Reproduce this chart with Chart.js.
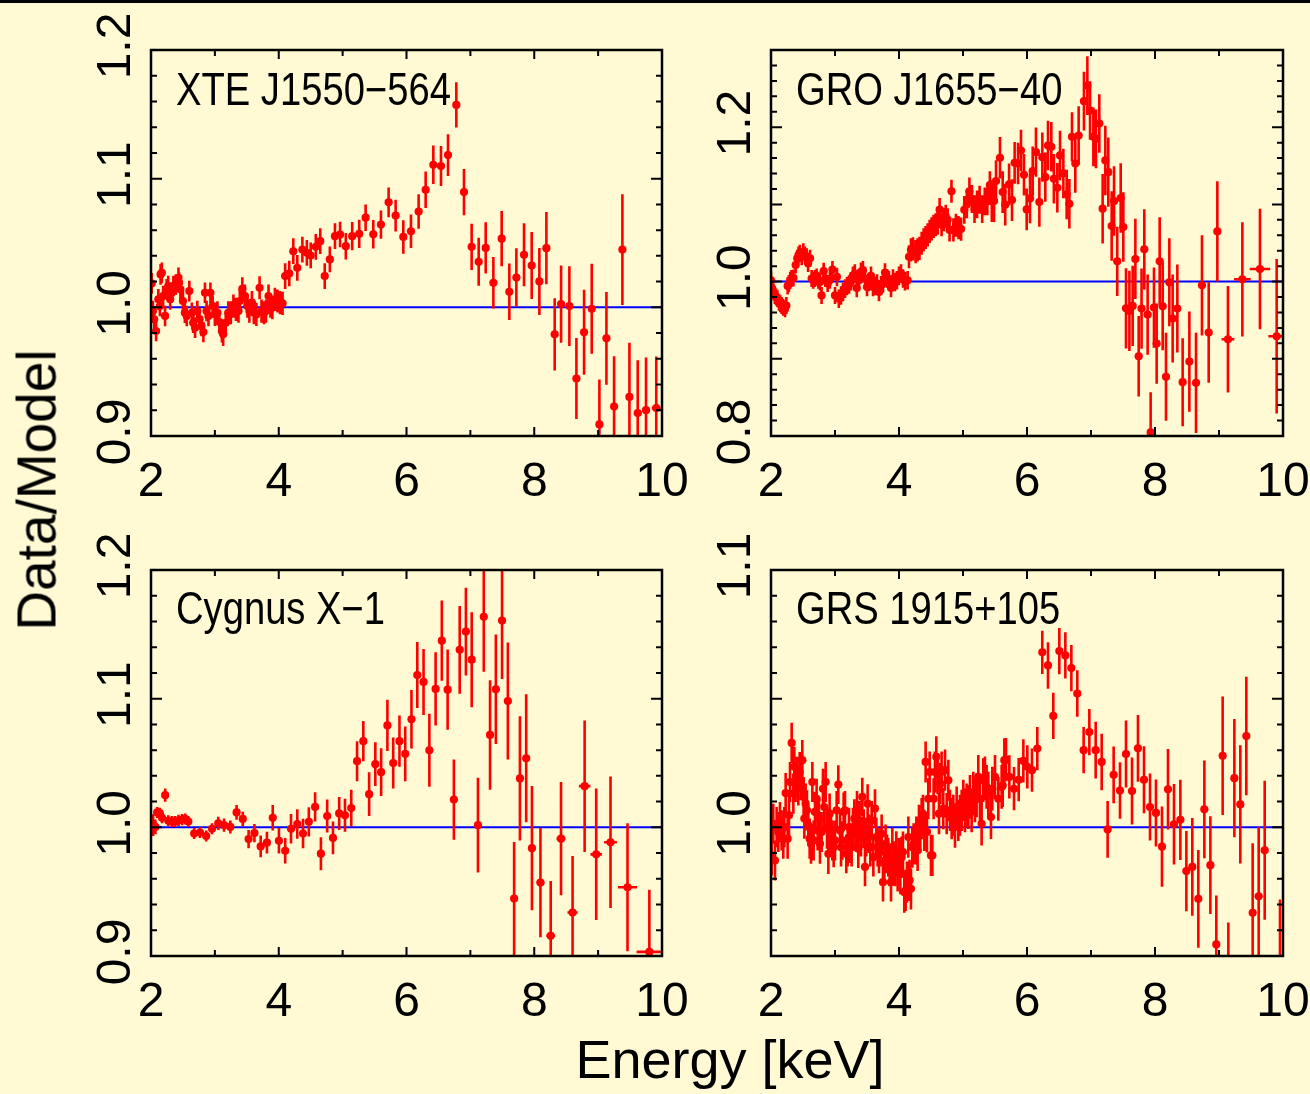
<!DOCTYPE html>
<html>
<head>
<meta charset="utf-8">
<script src="https://cdn.jsdelivr.net/npm/chart.js@4.4.1/dist/chart.umd.min.js"></script>
<style>
body { margin: 0; background: #fffad4; }
#page { position: relative; width: 1310px; height: 1094px; overflow: hidden; background: #fffad4; }
#topbar { position: absolute; left: 0; top: 0; width: 1310px; height: 3px; background: #000; }
canvas { position: absolute; }
.name { position: absolute; font: 46px "Liberation Sans", Arial, sans-serif; line-height: 46px; color: #000; white-space: nowrap; transform: scaleX(0.83); transform-origin: 0 0; }
.axis { position: absolute; font-family: "Liberation Sans", Arial, sans-serif; color: #000; white-space: nowrap; }
</style>
</head>
<body>
<div id="page">
  <div id="topbar"></div>
  <canvas id="xte" width="640" height="510" style="left:60px;top:0px"></canvas>
  <canvas id="gro" width="640" height="510" style="left:680px;top:0px"></canvas>
  <canvas id="cyg" width="640" height="520" style="left:60px;top:520px"></canvas>
  <canvas id="grs" width="640" height="520" style="left:680px;top:520px"></canvas>
  <div class="name" style="left:176px;top:66px">XTE J1550−564</div>
  <div class="name" style="left:796px;top:66px">GRO J1655−40</div>
  <div class="name" style="left:176px;top:585px">Cygnus X−1</div>
  <div class="name" style="left:796px;top:585px">GRS 1915+105</div>
  <div class="axis" style="left:37px;top:490px;font-size:55px;line-height:55px;transform:translate(-50%,-50%) rotate(-90deg)">Data/Model</div>
  <div class="axis" style="left:730px;top:1032px;font-size:54px;line-height:54px;transform:translateX(-50%)">Energy [keV]</div>
</div>
<script>
// model line (data/model = 1)
var modelEnergy = [2, 10];
var modelRatio = [1, 1];

// XTE J1550-564
var xteEnergy = [2.01,2.03,2.05,2.08,2.115,2.14,2.15,2.17,2.19,2.22,
  2.245,2.27,2.30,2.32,2.35,2.39,2.43,2.44,2.46,2.50,
  2.53,2.56,2.60,2.64,2.66,2.69,2.725,2.76,2.79,2.82,
  2.845,2.87,2.90,2.93,2.965,3.00,3.04,3.07,3.11,3.13,
  3.17,3.21,3.25,3.29,3.33,3.37,3.39,3.43,3.47,3.51,
  3.54,3.58,3.61,3.65,3.70,3.73,3.77,3.80,3.84,3.87,
  3.90,3.94,3.98,4.02,4.06,
  4.10,4.165,4.228,4.29,4.37,4.44,4.50,4.58,4.65,4.72,4.80,4.88,4.96,
  5.05,5.15,5.26,5.36,5.48,5.60,5.72,5.83,5.95,6.07,
  6.19,6.30,6.42,6.54,6.65,6.78,6.90,7.02,7.13,7.24,
  7.36,7.49,7.61,7.72,7.84,7.96,8.08,8.19,8.32,8.42,
  8.55,8.66,8.78,8.90,9.02,9.13,9.25,9.38,9.49,9.62,
  9.75,9.91];
var xteRatio = [1.0186,0.9971,0.9907,0.9816,1.0062,1.001,1.0256,1.0268,1.0088,0.9933,
  1.014,1.0165,1.0062,1.0113,1.0165,1.0178,1.023,1.0191,1.014,1.0049,
  0.9958,0.9933,1.0126,0.9958,0.988,0.9842,0.9971,0.9907,0.9855,0.9808,
  1.0113,0.9971,0.9933,1.0113,1.001,0.9945,0.9958,0.9886,0.9816,0.979,
  0.988,0.9958,0.9958,1.001,0.9984,0.9971,1.0049,1.0144,1.0088,1.001,
  0.9971,1.0036,0.9958,0.9945,1.0152,0.9971,0.9958,0.9971,1.0088,1.001,
  0.9997,1.0062,1.0049,1.0036,1.0031,
  1.0243,1.0263,1.0436,1.0307,1.0449,1.0424,1.0403,1.047,1.0514,1.0243,1.0372,1.0553,1.0566,
  1.0475,1.0553,1.0571,1.0697,1.0568,1.0643,1.0816,1.0713,1.0547,1.0591,
  1.0744,1.0914,1.1108,1.1098,1.1183,1.1573,1.0896,1.0470,1.0354,1.0462,
  1.0191,1.0534,1.0121,1.0232,1.0408,1.0325,1.0201,1.0460,0.9790,1.0025,
  1.0010,0.9447,0.9806,0.9989,0.9090,0.9759,0.9229,1.0449,0.9304,0.9178,
  0.9201,0.9217];
var xteErr = [0.008,0.008,0.008,0.008,0.008,0.008,0.008,0.008,0.008,0.008,
  0.008,0.008,0.008,0.008,0.008,0.008,0.008,0.008,0.008,0.008,
  0.008,0.008,0.008,0.008,0.008,0.008,0.008,0.008,0.008,0.008,
  0.008,0.008,0.008,0.008,0.008,0.009,0.009,0.009,0.009,0.009,
  0.009,0.009,0.009,0.009,0.009,0.009,0.009,0.009,0.009,0.009,
  0.009,0.009,0.009,0.009,0.009,0.009,0.009,0.009,0.009,0.009,
  0.009,0.009,0.009,0.009,0.009,
  0.010,0.010,0.010,0.010,0.010,0.010,0.010,0.010,0.010,0.010,0.010,0.010,0.010,
  0.0103,0.011,0.011,0.0103,0.011,0.011,0.0116,0.0124,0.013,0.013,
  0.0134,0.0142,0.015,0.0155,0.0163,0.0176,0.018,0.018,0.0186,0.02,
  0.02,0.0214,0.022,0.0227,0.0245,0.026,0.026,0.028,0.028,0.030,
  0.031,0.0315,0.033,0.035,0.035,0.036,0.039,0.043,0.042,0.041,
  0.041,0.040];
var xteXerr = [0.05, 0.06, 0.06, 0.07];
var xteYLabels = ['0.9', '1.0', '1.1', '1.2'];

// GRO J1655-40
var groEnergy = [2.0,2.02,2.04,2.06,2.08,2.10,2.125,2.145,2.166,2.19,
  2.22,2.24,2.26,2.28,2.30,2.32,2.35,2.385,2.41,2.43,
  2.45,2.48,2.505,2.53,2.557,2.58,2.61,2.635,2.66,2.687,
  2.713,2.74,2.765,2.79,2.823,2.85,2.885,2.92,2.96,3.0,
  3.03,3.06,3.094,3.125,3.156,3.187,3.22,3.25,3.28,3.31,
  3.34,3.375,3.406,3.437,3.47,3.50,3.53,3.562,3.594,3.625,
  3.656,3.687,3.72,3.75,3.781,3.812,3.843,3.875,3.906,3.937,
  3.968,4.0,4.031,4.062,4.093,4.135,
  4.156,4.187,4.218,4.26,4.29,4.32,4.354,4.385,4.416,4.448,
  4.479,4.51,4.54,4.573,4.604,4.635,4.666,4.698,4.73,4.76,
  4.79,4.82,4.85,4.89,4.93,4.97,5.02,5.06,5.10,5.14,
  5.18,5.22,5.26,5.30,5.34,5.38,5.42,
  5.45,5.485,5.516,5.578,5.62,5.66,5.72,5.766,5.807,5.86,
  5.906,5.953,5.995,6.047,6.089,6.14,6.193,6.24,6.286,6.328,
  6.38,6.42,6.474,6.516,6.568,6.62,6.662,6.703,6.755,6.807,
  6.89,6.943,6.985,7.037,7.078,7.13,7.182,7.224,7.27,7.323,
  7.36,7.41,7.464,7.505,7.547,7.6,7.651,7.693,7.745,7.79,
  7.833,7.885,7.932,7.984,8.026,8.073,8.12,8.172,8.224,8.276,
  8.349,8.432,8.537,8.641,8.734,8.839,8.974,9.14,9.365,9.64,
  9.901];
var groRatio = [1.0017,0.9909,0.9865,0.9821,0.98,0.9778,0.9734,0.9712,0.969,0.9669,
  0.9647,0.969,0.9943,0.9974,1.0017,1.0039,1.0048,1.0214,1.0301,1.0344,
  1.0366,1.0322,1.0388,1.0344,1.0322,1.0235,1.0301,1.0039,1.0017,1.0039,
  1.0061,1.0017,0.9996,0.9821,1.0135,1.0039,0.9974,1.0017,1.0157,0.9821,
  1.0061,0.9778,0.9821,0.9865,0.9909,0.9943,0.9961,1.0004,1.0074,1.0105,
  0.9917,1.0017,1.0126,1.0148,1.0039,0.993,0.9996,1.0074,0.993,0.9943,
  0.9974,0.9865,0.9952,0.9974,1.0118,1.0039,1.0017,0.9917,1.0039,0.9996,
  1.0017,1.0074,1.0105,1.0039,1.0004,1.0017,
  1.0322,1.041,1.0423,1.0388,1.041,1.0431,1.0497,1.054,1.0571,1.0606,
  1.065,1.0684,1.0715,1.0736,1.0758,1.0932,1.0736,1.0802,1.0845,1.08,
  1.067,1.117,1.067,1.073,1.07,1.068,1.093,1.10,1.117,1.107,
  1.094,1.10,1.106,1.094,1.104,1.104,1.125,
  1.1043,1.1043,1.1302,1.1604,1.116,1.0996,1.1259,1.1056,1.1539,1.153,
  1.1698,1.1384,1.0935,1.1077,1.1431,1.1677,1.103,1.1612,1.1353,1.1763,
  1.1746,1.1332,1.1215,1.1634,1.1401,1.1129,1.1008,1.1875,1.153,1.1892,
  1.2337,1.2539,1.2216,1.1875,1.1849,1.2048,1.0944,1.1569,1.1418,1.072,
  1.1043,1.0262,1.1082,1.0707,0.9654,0.962,0.9685,1.0293,0.9033,0.965,
  1.0418,0.9573,0.8046,0.9663,0.9197,1.0262,0.968,0.8766,0.9991,0.9521,
  0.965,0.8697,0.8964,0.8689,0.9952,0.934,1.065,0.9253,1.003,1.0163,
  0.9292];
var groErr = [0.011,0.011,0.011,0.011,0.011,0.011,0.011,0.011,0.011,0.011,
  0.011,0.011,0.011,0.011,0.011,0.011,0.011,0.011,0.011,0.011,
  0.011,0.011,0.011,0.011,0.011,0.011,0.011,0.011,0.011,0.011,
  0.011,0.011,0.011,0.011,0.011,0.011,0.011,0.011,0.011,0.011,
  0.012,0.012,0.012,0.012,0.012,0.012,0.012,0.012,0.012,0.012,
  0.012,0.012,0.012,0.012,0.012,0.012,0.012,0.012,0.012,0.012,
  0.012,0.012,0.012,0.012,0.012,0.012,0.012,0.012,0.012,0.012,
  0.012,0.012,0.012,0.012,0.012,0.012,
  0.015,0.015,0.015,0.015,0.015,0.015,0.015,0.015,0.015,0.015,
  0.015,0.015,0.015,0.015,0.015,0.015,0.015,0.015,0.015,0.015,
  0.015,0.015,0.015,0.015,0.015,0.015,0.018,0.018,0.018,0.018,
  0.018,0.018,0.018,0.018,0.018,0.018,0.018,
  0.027,0.027,0.027,0.027,0.027,0.027,0.027,0.027,0.027,0.027,
  0.027,0.027,0.027,0.032,0.032,0.032,0.032,0.032,0.032,0.032,
  0.032,0.032,0.032,0.032,0.032,0.032,0.032,0.032,0.038,0.038,
  0.038,0.038,0.038,0.038,0.038,0.038,0.045,0.045,0.045,0.045,
  0.045,0.045,0.045,0.045,0.052,0.052,0.052,0.052,0.052,0.052,
  0.052,0.052,0.052,0.052,0.052,0.057,0.057,0.057,0.057,0.057,
  0.057,0.057,0.065,0.065,0.065,0.065,0.065,0.069,0.074,0.078,
  0.10];
var groXerr = [0.1, 0.13, 0.16, 0.13];
var groYLabels = ['0.8', '1.0', '1.2'];

// Cygnus X-1
var cygEnergy = [2.033,2.068,2.096,2.138,2.173,2.222,2.271,2.327,2.376,2.431,
  2.487,2.536,2.585,2.676,2.767,2.864,2.955,3.053,3.144,3.242,
  3.34,3.437,3.528,3.619,3.717,3.815,3.906,4.003,4.101,4.192,
  4.29,4.38,4.471,4.569,4.66,4.758,4.849,4.946,5.037,5.135,
  5.226,5.324,5.415,5.512,5.603,5.701,5.792,5.89,5.98,6.078,
  6.169,6.267,6.358,6.456,6.553,6.644,6.742,6.833,6.93,7.021,
  7.119,7.21,7.308,7.399,7.496,7.587,7.685,7.776,7.874,7.964,
  8.097,8.258,8.419,8.6,8.789,8.97,9.194,9.46,9.802];
var cygRatio = [1.0017,1.0003,1.0116,1.011,1.0074,1.025,1.0051,1.0045,1.0045,1.0054,
  1.0060,1.0065,1.0045,0.9952,0.996,0.9932,0.9989,1.0031,1.0017,1.0003,
  1.0116,1.0065,0.9909,0.9955,0.9852,0.9881,1.0074,0.9895,0.9818,0.9989,
  1.0026,0.9952,1.0043,1.0159,0.9795,1.0088,0.9918,1.0108,1.0094,1.015,
  1.0514,1.067,1.0258,1.0491,1.0429,1.0792,1.05,1.067,1.0571,1.084,
  1.1184,1.113,1.0599,1.1076,1.1451,1.107,1.0216,1.138,1.1522,1.1303,
  1.0017,1.1636,1.0718,1.1073,1.1607,1.0982,0.9446,1.038,1.0537,0.9838,
  0.9571,0.9157,0.9912,0.9338,1.032,0.979,0.9884,0.9534,0.9032];
var cygErr = [0.0085,0.0057,0.0043,0.0043,0.0043,0.0051,0.0043,0.0043,0.0043,0.0043,
  0.0043,0.0043,0.0043,0.0043,0.0043,0.0043,0.0043,0.0051,0.0051,0.0051,
  0.0057,0.0057,0.0071,0.0071,0.0085,0.0085,0.0099,0.0099,0.0099,0.0114,
  0.0114,0.0114,0.0114,0.0114,0.0128,0.0128,0.0128,0.0128,0.0128,0.0142,
  0.0156,0.0156,0.017,0.017,0.0185,0.0199,0.0199,0.0199,0.0213,0.0227,
  0.0256,0.0256,0.0284,0.0284,0.0312,0.0312,0.0312,0.0341,0.0341,0.0369,
  0.0369,0.0426,0.0426,0.0426,0.0454,0.0454,0.044,0.0483,0.0497,0.0483,
  0.0426,0.0426,0.044,0.044,0.0511,0.0511,0.0511,0.0497,0.0483];
var cygXerr = [0.06, 0.07, 0.07, 0.08, 0.09, 0.09, 0.1, 0.15, 0.2];
var cygYLabels = ['0.9', '1.0', '1.1', '1.2'];

// GRS 1915+105
var grsEnergy = [2.010,2.036,2.062,2.088,2.114,2.140,2.166,2.192,2.208,2.229,
  2.260,2.281,2.297,2.323,2.349,2.364,2.385,2.406,2.427,2.448,
  2.469,2.489,2.510,2.521,2.541,2.562,2.583,2.604,2.625,2.646,
  2.666,2.687,2.713,2.729,2.750,2.765,2.791,2.812,2.833,2.854,
  2.875,2.896,2.916,2.937,2.958,2.979,3.000,3.026,3.052,3.078,
  3.094,3.114,3.135,3.156,3.177,3.198,3.219,3.239,3.260,3.281,
  3.302,3.323,3.344,3.364,3.385,3.406,3.427,3.448,3.469,3.489,
  3.510,3.531,3.552,3.573,3.599,3.625,3.646,3.666,3.687,3.708,
  3.729,3.750,3.771,3.791,3.812,3.833,3.854,3.875,3.896,3.916,
  3.937,3.958,3.979,4.000,4.021,4.041,4.062,4.083,4.104,4.125,
  4.146,4.166,4.187,4.208,4.229,4.250,4.271,4.291,4.312,4.333,
  4.354,4.375,4.396,4.416,4.437,4.458,4.479,4.500,4.521,4.541,
  4.562,4.583,4.604,4.625,4.646,4.666,4.692,4.719,4.745,4.771,
  4.797,4.823,4.849,4.875,4.901,4.927,4.953,4.979,5.005,5.031,
  5.057,5.083,5.109,5.135,5.161,5.187,5.213,5.239,5.265,5.291,
  5.317,5.343,5.369,5.395,5.437,5.458,5.5,5.552,5.604,5.646,
  5.62,5.672,5.724,5.797,5.87,5.943,6.005,6.078,6.161,6.239,
  6.328,6.411,6.505,6.599,6.693,6.786,6.885,6.974,7.073,7.167,
  7.26,7.354,7.453,7.547,7.641,7.734,7.828,7.922,8.015,8.109,
  8.203,8.297,8.396,8.49,8.583,8.677,8.771,8.865,8.958,9.057,
  9.146,9.24,9.333,9.427,9.526,9.62,9.714,9.953];
var grsRatio = [0.9891,1.0014,0.9871,1.0001,0.9982,1.002,0.9988,0.9956,1.0001,1.0133,
  0.9956,1.0047,1.0176,1.0328,1.0131,1.0235,1.0176,1.0196,1.0163,1.0215,
  1.0183,1.0261,1.0118,1.0034,1.0092,1.0066,1.0008,0.9956,0.9936,1.0176,
  0.9949,1.006,1.0111,0.9988,1.0034,0.9936,0.9982,1.015,1.0079,1.0176,
  0.9995,0.9897,1.0053,0.9988,0.9949,0.9923,0.9949,1.0066,1.0166,0.9988,
  0.9923,0.9949,1.006,1.0066,0.9897,0.9923,1.0001,0.9936,0.9923,1.0001,
  1.0034,0.9982,1.0066,0.9917,1.0027,0.9962,1.0118,0.9995,0.9846,0.9962,
  1.0092,0.9975,0.9923,1.0027,0.9884,1.0073,0.9962,0.9923,0.9897,0.9923,
  0.9975,0.9787,0.9871,0.9936,0.9897,0.9884,0.9846,0.9787,0.9923,0.9871,
  0.9846,0.991,0.9826,0.9884,0.982,0.9884,0.9904,0.9748,0.9755,0.9787,
  0.9962,0.9794,0.9761,0.9923,0.9936,0.9936,0.9962,0.991,1.0008,0.9982,
  1.0034,1.0047,0.9988,1.0254,0.9982,1.0111,1.0215,0.9891,0.9891,1.0111,
  1.0215,1.0274,1.0209,1.0053,1.017,1.0215,1.0073,1.0222,1.0053,1.0183,
  1.0066,1.0034,1.0047,1.0001,1.0079,1.0027,1.0047,1.0066,1.0105,1.0066,
  1.0085,1.0079,1.0118,1.0066,1.0131,1.0105,1.0124,1.0196,1.0111,1.0014,
  1.0183,1.019,1.0157,1.0131,1.004,1.015,1.0196,1.0111,1.0157,1.0261,
  1.0163,1.0263,1.0196,1.015,1.0185,1.0258,1.0235,1.0222,1.0306,1.068,
  1.0629,1.0433,1.0685,1.0668,1.0619,1.052,1.03,1.037,1.03,1.0254,
  0.9992,1.0204,1.0143,1.0285,1.0141,1.0307,1.0185,1.0079,1.0056,0.9925,
  1.0148,1.0012,1.0029,0.983,0.9846,0.9722,1.007,0.9853,0.9545,1.0278,
  0.94,1.0191,1.0089,1.0355,0.9668,0.9732,0.9911,0.945];
var grsErr = [0.0078,0.0078,0.0078,0.0078,0.0078,0.0078,0.0078,0.0078,0.0078,0.0078,
  0.0078,0.0078,0.0078,0.0078,0.0078,0.0078,0.0078,0.0078,0.0078,0.0078,
  0.0078,0.0078,0.0078,0.0078,0.0078,0.0078,0.0078,0.0078,0.0078,0.0078,
  0.0078,0.0078,0.0078,0.0078,0.0078,0.0078,0.0078,0.0078,0.0078,0.0078,
  0.0078,0.0078,0.0078,0.0078,0.0078,0.0078,0.0078,0.0075,0.0075,0.0075,
  0.0075,0.0075,0.0075,0.0075,0.0075,0.0075,0.0075,0.0075,0.0075,0.0075,
  0.0075,0.0075,0.0075,0.0075,0.0075,0.0075,0.0075,0.0075,0.0075,0.0075,
  0.0075,0.0075,0.0075,0.0075,0.0075,0.0075,0.0075,0.0075,0.0075,0.0075,
  0.0075,0.0075,0.0075,0.0075,0.0075,0.0075,0.0075,0.0075,0.0075,0.0075,
  0.0075,0.0075,0.0075,0.0075,0.008,0.008,0.008,0.008,0.008,0.008,
  0.008,0.008,0.008,0.008,0.008,0.008,0.008,0.008,0.008,0.008,
  0.008,0.008,0.008,0.008,0.008,0.008,0.008,0.008,0.008,0.008,
  0.008,0.008,0.008,0.008,0.008,0.008,0.008,0.008,0.008,0.008,
  0.008,0.008,0.008,0.008,0.008,0.008,0.008,0.008,0.008,0.0085,
  0.0085,0.0085,0.0085,0.0085,0.0085,0.0085,0.0085,0.0085,0.0085,0.0085,
  0.0085,0.0085,0.0085,0.0085,0.0085,0.0085,0.0085,0.0085,0.0085,0.0085,
  0.0084,0.0084,0.0084,0.0084,0.0084,0.0084,0.0084,0.0084,0.0084,0.0084,
  0.009,0.009,0.009,0.009,0.009,0.009,0.009,0.009,0.011,0.011,
  0.011,0.011,0.011,0.013,0.013,0.013,0.013,0.013,0.013,0.0156,
  0.0156,0.0156,0.0156,0.0156,0.019,0.019,0.019,0.019,0.019,0.023,
  0.023,0.023,0.023,0.023,0.027,0.027,0.027,0.027];
var grsXerr = [];
var grsYLabels = ['1.0', '1.1'];

var xTickLabels = ['2', '4', '6', '8', '10'];

var tickFont = '"Liberation Sans", Arial, sans-serif';
var panels = {};

// error bars, box, inward ticks and rotated y labels
var framePlugin = {
  id: 'frame',
  beforeDatasetDraw: function(chart, args) {
    if (args.index !== 1) return;
    var p = panels[chart.canvas.id];
    var ctx = chart.ctx, a = chart.chartArea;
    var sx = chart.scales.x, sy = chart.scales.y;
    var off = p.energy.length - p.xerr.length;
    ctx.save();
    ctx.beginPath();
    ctx.rect(a.left, a.top, a.right - a.left, a.bottom - a.top);
    ctx.clip();
    ctx.strokeStyle = '#ff0000';
    ctx.lineWidth = 2.6;
    ctx.beginPath();
    for (var i = 0; i < p.energy.length; i++) {
      var x = sx.getPixelForValue(p.energy[i]);
      ctx.moveTo(x, sy.getPixelForValue(p.ratio[i] - p.err[i]));
      ctx.lineTo(x, sy.getPixelForValue(p.ratio[i] + p.err[i]));
      if (i >= off) {
        var dx = p.xerr[i - off], y = sy.getPixelForValue(p.ratio[i]);
        ctx.moveTo(sx.getPixelForValue(p.energy[i] - dx), y);
        ctx.lineTo(sx.getPixelForValue(p.energy[i] + dx), y);
      }
    }
    ctx.stroke();
    ctx.restore();
  },
  afterDraw: function(chart) {
    var p = panels[chart.canvas.id];
    var ctx = chart.ctx, a = chart.chartArea;
    var sx = chart.scales.x, sy = chart.scales.y;
    ctx.save();
    ctx.strokeStyle = '#000';
    ctx.lineWidth = 2;
    ctx.beginPath();
    for (var e = 2; e <= 10; e++) {
      var x = sx.getPixelForValue(e), len = e % 2 === 0 ? 9 : 6;
      ctx.moveTo(x, a.bottom); ctx.lineTo(x, a.bottom - len);
      ctx.moveTo(x, a.top); ctx.lineTo(x, a.top + len);
    }
    var n = Math.round((p.yMax - p.yMin) / p.yMinor);
    for (var k = 0; k <= n; k++) {
      var v = p.yMin + k * p.yMinor, q = v / p.yMajor;
      var l = Math.abs(q - Math.round(q)) < 1e-6 ? 11 : 6;
      var y = sy.getPixelForValue(v);
      ctx.moveTo(a.left, y); ctx.lineTo(a.left + l, y);
      ctx.moveTo(a.right, y); ctx.lineTo(a.right - l, y);
    }
    ctx.stroke();
    ctx.lineWidth = 2.5;
    ctx.strokeRect(a.left, a.top, a.right - a.left, a.bottom - a.top);

    ctx.fillStyle = '#000';
    ctx.font = '48px ' + tickFont;
    ctx.textAlign = 'center';
    ctx.textBaseline = 'middle';
    p.yLabels.forEach(function(t) {
      ctx.save();
      ctx.translate(a.left - 34, sy.getPixelForValue(parseFloat(t)) - 4);
      ctx.rotate(-Math.PI / 2);
      ctx.fillText(t, 0, 0);
      ctx.restore();
    });
    ctx.restore();
  }
};

function drawPanel(id, energy, ratio, err, xerr, yMin, yMax, yMajor, yMinor, yLabels, xHeight, padRight) {
  panels[id] = { energy: energy, ratio: ratio, err: err, xerr: xerr,
    yMin: yMin, yMax: yMax, yMajor: yMajor, yMinor: yMinor, yLabels: yLabels };
  var pts = [];
  for (var i = 0; i < energy.length; i++) pts.push({ x: energy[i], y: ratio[i] });
  var model = [];
  for (var j = 0; j < modelEnergy.length; j++) model.push({ x: modelEnergy[j], y: modelRatio[j] });

  new Chart(document.getElementById(id).getContext('2d'), {
    type: 'scatter',
    data: {
      datasets: [{
        type: 'line',
        data: model,
        borderColor: '#0000ff',
        borderWidth: 2,
        pointRadius: 0,
        order: 2
      }, {
        data: pts,
        backgroundColor: '#ff0000',
        borderWidth: 0,
        pointRadius: 4.1,
        order: 1
      }]
    },
    options: {
      responsive: false,
      animation: false,
      events: [],
      layout: { padding: { top: 50, right: padRight, left: 0, bottom: 0 } },
      plugins: { legend: { display: false }, tooltip: { enabled: false } },
      scales: {
        x: {
          type: 'linear', min: 2, max: 10,
          afterBuildTicks: function(s) { s.ticks = xTickLabels.map(function(t) { return { value: parseFloat(t) }; }); },
          ticks: { color: '#000', font: { size: 48, family: tickFont }, padding: 10, maxRotation: 0 },
          grid: { display: false },
          border: { display: false },
          afterFit: function(s) { s.height = xHeight; }
        },
        y: {
          type: 'linear', min: yMin, max: yMax,
          ticks: { display: false },
          grid: { display: false },
          border: { display: false },
          afterFit: function(s) { s.width = 91; }
        }
      }
    },
    plugins: [framePlugin]
  });
}

drawPanel('xte', xteEnergy, xteRatio, xteErr, xteXerr, 0.9, 1.2, 0.1, 0.02, xteYLabels, 74, 38);
drawPanel('gro', groEnergy, groRatio, groErr, groXerr, 0.8, 1.3, 0.1, 0.02, groYLabels, 74, 37);
drawPanel('cyg', cygEnergy, cygRatio, cygErr, cygXerr, 0.9, 1.2, 0.1, 0.02, cygYLabels, 84, 38);
drawPanel('grs', grsEnergy, grsRatio, grsErr, grsXerr, 0.95, 1.1, 0.05, 0.01, grsYLabels, 84, 37);
</script>
</body>
</html>
